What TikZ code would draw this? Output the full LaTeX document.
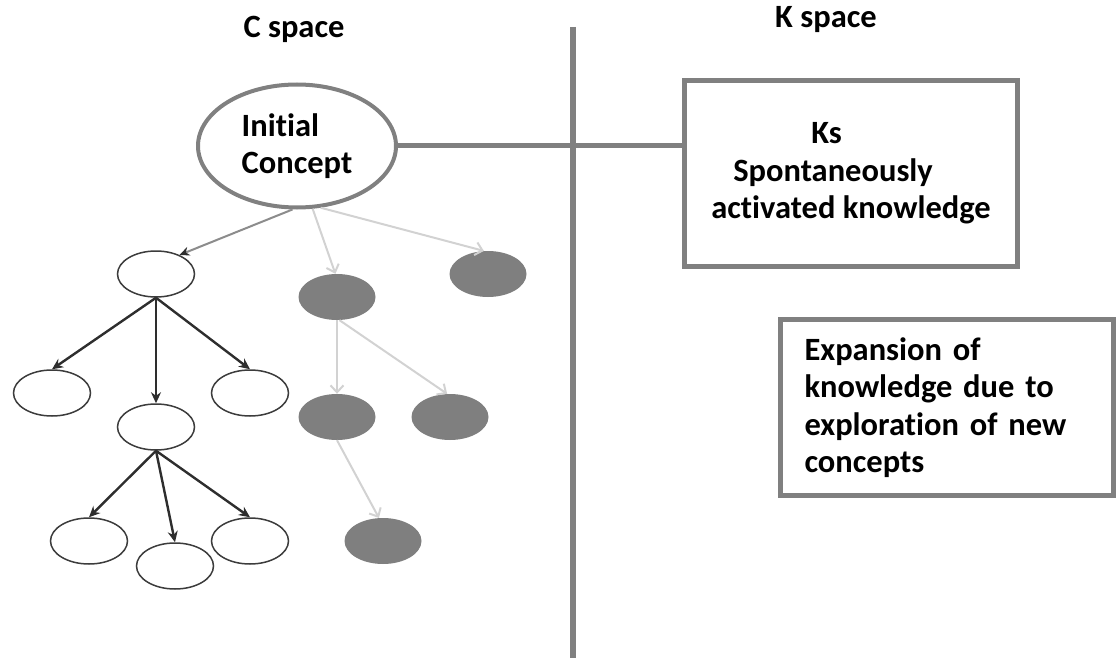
\documentclass[tikz,border=0pt]{standalone}
\usepackage{fontspec}
\setmainfont{Carlito}[Ligatures={NoCommon}]
\usetikzlibrary{shapes.geometric,arrows.meta}
\definecolor{frame}{HTML}{808080}
\definecolor{outl}{HTML}{3C3C3C}
\definecolor{darkar}{HTML}{2E2E2E}
\definecolor{lightar}{HTML}{D2D2D2}
\definecolor{midar}{HTML}{8C8C8C}
\definecolor{gfill}{HTML}{7F7F7F}
\begin{document}
\begin{tikzpicture}[x=1pt,y=-1pt,
  every node/.style={font=\bfseries\fontsize{32.5}{37.5}\selectfont},
  title/.style={anchor=base,inner sep=0pt},
  bigell/.style={ellipse,draw=frame,line width=4pt,minimum width=198pt,minimum height=123pt,inner sep=0pt,align=left},
  boxnode/.style={rectangle,draw=frame,line width=5pt},
  wnode/.style={ellipse,draw=outl,line width=1.5pt,minimum width=77pt,minimum height=46pt,inner sep=0pt},
  gnode/.style={ellipse,fill=gfill,minimum width=77pt,minimum height=46pt,inner sep=0pt},
  darrow/.style={draw=darkar,line width=2.4pt,-{Stealth[length=11pt,width=10pt]}},
  larrow/.style={draw=lightar,line width=2pt,-{Straight Barb[length=7pt,width=13pt]}},
  marrow/.style={draw=midar,line width=2pt,-{Stealth[length=10pt,width=9pt,color=darkar]}},
  divider/.style={draw=frame,line width=6pt}
]
\useasboundingbox (0,0) rectangle (1117,658);

% titles
\node[title] (cs) at (294,38) {C space};
\node[title] (ksp) at (826,28) {K space};

% divider
\coordinate (vt) at (572.5,27);
\coordinate (vb) at (572.5,658);
\draw[divider] (vt) -- (vb);

% initial concept
\node[bigell] (ic) at (297,146) {Initial\\Concept};

% K space boxes
\node[boxnode,minimum width=333pt,minimum height=186pt,anchor=north west,align=left] (ks) at (682,78)
  {\hspace*{100pt}Ks\\\hspace*{22pt}Spontaneously\\activated knowledge};
\node[boxnode,anchor=north west,text width=285pt,inner xsep=24pt,minimum height=176pt,align=left] (ex) at (778,317)
  {Expansion of\\knowledge due to\\exploration of new\\concepts};

\draw[divider,line width=5pt] (ic.east) -- (ic.east -| ks.west);

% white tree
\node[wnode] (a) at (156,274) {};
\node[wnode] (b) at (52,393) {};
\node[wnode] (c) at (156,427) {};
\node[wnode] (d) at (250,393) {};
\node[wnode] (e) at (89,541) {};
\node[wnode] (f) at (175,566) {};
\node[wnode] (g) at (250,541) {};

% grey tree
\node[gnode] (h) at (337,297) {};
\node[gnode] (i) at (488,274) {};
\node[gnode] (j) at (337,417) {};
\node[gnode] (k) at (450,417) {};
\node[gnode] (l) at (383,541) {};

% arrows from initial concept
\draw[marrow] (ic.-94) -- (a.39);
\draw[larrow] (ic.-76) -- (h.94);
\draw[larrow] (ic.-69) -- (i.100);

% white tree arrows
\draw[darrow] (a.south) -- (b.north);
\draw[darrow] (a.south) -- (c.north);
\draw[darrow] (a.south) -- (d.north);
\draw[darrow] (c.south) -- (e.north);
\draw[darrow] (c.south) -- (f.north);
\draw[darrow] (c.south) -- (g.north);

% grey tree arrows
\draw[larrow] (h.south) -- (j.north);
\draw[larrow] (h.-84) -- (k.97);
\draw[larrow] (j.south) -- (l.100);
\end{tikzpicture}
\end{document}
